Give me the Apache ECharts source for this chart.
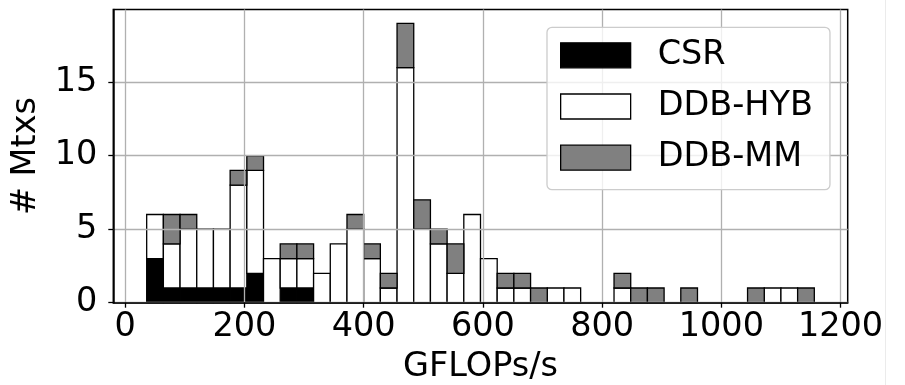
<!DOCTYPE html>
<html>
<head>
<meta charset="utf-8">
<script src="https://cdn.jsdelivr.net/npm/echarts@6/dist/echarts.min.js"></script>
<style>
html,body{margin:0;padding:0;background:#fff;}
#chart{width:905px;height:385px;}
</style>
</head>
<body>
<div id="chart"></div>
<script>
// Histogram bins: 40 bins starting at binStart, each binWidth wide (GFLOPs/s)
const binStart = 36;
const binWidth = 28;
const seriesNames = ['CSR', 'DDB-HYB', 'DDB-MM'];
const csrCounts = [3,1,1,1,1,1,2,0,1,1, 0,0,0,0,0,0,0,0,0,0, 0,0,0,0,0,0,0,0,0,0, 0,0,0,0,0,0,0,0,0,0];
const hybCounts = [3,3,4,4,4,7,7,3,2,2, 2,4,5,3,1,16,5,4,2,6, 3,1,1,0,1,1,0,0,1,0, 0,0,0,0,0,0,0,1,1,0];
const mmCounts  = [0,2,1,0,0,1,1,0,1,1, 0,0,1,1,1,3,2,1,2,0, 0,1,1,1,0,0,0,0,1,1, 1,0,1,0,0,0,1,0,0,1];
const xTicks = [0, 200, 400, 600, 800, 1000, 1200];
const yTicks = [0, 5, 10, 15];
const fills = ['#000000', '#ffffff', '#808080'];

const countSets = [csrCounts, hybCounts, mmCounts];
const nBins = csrCounts.length;
const xMin = binStart - 0.05 * nBins * binWidth;
const xMax = binStart + nBins * binWidth + 0.05 * nBins * binWidth;
let maxTotal = 0;
for (let i = 0; i < nBins; i++) maxTotal = Math.max(maxTotal, csrCounts[i] + hybCounts[i] + mmCounts[i]);
const yMax = maxTotal * 1.05;

const base = new Array(nBins).fill(0);
const series = countSets.map((counts, si) => {
  const data = [];
  for (let i = 0; i < nBins; i++) {
    if (counts[i] > 0) {
      const x0 = binStart + i * binWidth;
      data.push([x0, x0 + binWidth, base[i], base[i] + counts[i]]);
    }
    base[i] += counts[i];
  }
  const fill = fills[si];
  return {
    name: seriesNames[si],
    type: 'custom',
    z: 2,
    itemStyle: { color: fill, borderColor: '#000', borderWidth: 1.3 },
    encode: { x: [0, 1], y: [2, 3] },
    data: data,
    renderItem: function (params, api) {
      const p0 = api.coord([api.value(0), api.value(2)]);
      const p1 = api.coord([api.value(1), api.value(3)]);
      return {
        type: 'rect',
        shape: { x: p0[0], y: p1[1], width: p1[0] - p0[0], height: p0[1] - p1[1] },
        style: { fill: fill, stroke: '#000', lineWidth: 1.3 }
      };
    }
  };
});

const FONT = 'DejaVu Sans';
const FS = 33.5;
const chart = echarts.init(document.getElementById('chart'), null, { renderer: 'canvas' });
chart.setOption({
  animation: false,
  backgroundColor: '#fff',
  textStyle: { fontFamily: FONT, color: '#000' },
  grid: {
    left: 113.3, right: 57.3, top: 9.5, bottom: 82.3,
    containLabel: false, outerBoundsMode: 'none',
    show: true, borderColor: '#000', borderWidth: 1.5, backgroundColor: 'transparent'
  },
  xAxis: {
    type: 'value', min: xMin, max: xMax, z: 3,
    name: 'GFLOPs/s', nameLocation: 'middle', nameGap: 48,
    nameTextStyle: { fontFamily: FONT, fontSize: FS, color: '#000' },
    axisLine: { show: true, onZero: false, lineStyle: { color: '#000', width: 1.5 } },
    axisTick: { show: true, length: 5, lineStyle: { color: '#000', width: 1.3 }, customValues: xTicks },
    axisLabel: { fontFamily: FONT, fontSize: FS, color: '#000', margin: 8, customValues: xTicks,
                 formatter: v => String(v) },
    splitLine: { show: true, lineStyle: { color: '#b0b0b0', width: 1.3 } }
  },
  yAxis: {
    type: 'value', min: 0, max: yMax, z: 3,
    name: '# Mtxs', nameLocation: 'middle', nameGap: 53, nameRotate: 90,
    nameTextStyle: { fontFamily: FONT, fontSize: FS, color: '#000' },
    axisLine: { show: true, onZero: false, lineStyle: { color: '#000', width: 1.5 } },
    axisTick: { show: true, length: 5, lineStyle: { color: '#000', width: 1.3 }, customValues: yTicks },
    axisLabel: { fontFamily: FONT, fontSize: FS, color: '#000', margin: 16, customValues: yTicks,
                 formatter: v => String(v) },
    splitLine: { show: true, lineStyle: { color: '#b0b0b0', width: 1.3 } }
  },
  legend: {
    orient: 'vertical', left: 547, top: 27.3, z: 10,
    padding: [11, 17, 15, 13],
    itemWidth: 70, itemHeight: 25, itemGap: 17.2,
    icon: 'rect',
    backgroundColor: 'rgba(255,255,255,0.8)',
    borderColor: '#cccccc', borderWidth: 1.3, borderRadius: 5,
    textStyle: { fontFamily: FONT, fontSize: FS, color: '#000', padding: [0, 0, 0, 22] },
    data: seriesNames.map((n, i) => ({
      name: n,
      itemStyle: { color: fills[i], borderColor: '#000', borderWidth: 1.3 }
    }))
  },
  graphic: [{
    type: 'line', shape: { x1: 885.5, y1: 0, x2: 885.5, y2: 385 },
    style: { stroke: '#ebebeb', lineWidth: 1 }, silent: true
  }],
  series: series
});
</script>
</body>
</html>
